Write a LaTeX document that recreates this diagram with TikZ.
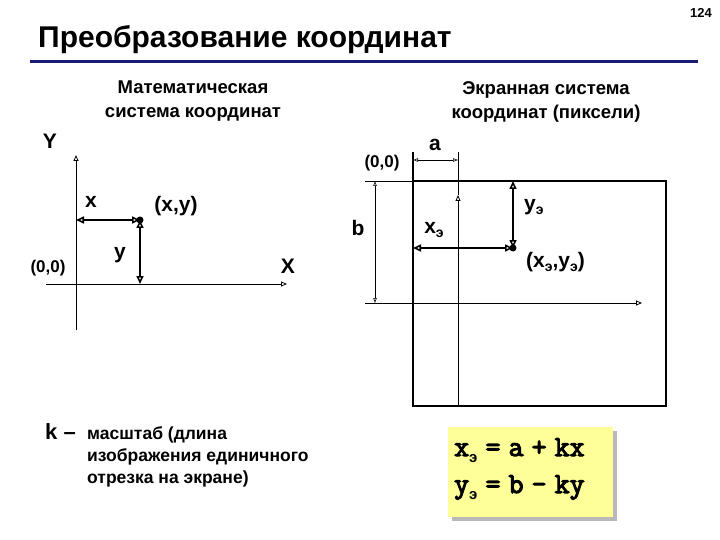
\documentclass[tikz,border=0pt]{standalone}
\usepackage{fontspec}
\setmainfont{Liberation Sans}
\usetikzlibrary{arrows.meta}
\definecolor{navy}{HTML}{1A1A70}
\definecolor{boxyellow}{HTML}{FFFF99}
\tikzset{
  axis/.style={line width=0.8pt, -{Triangle[open,length=6pt,width=5pt]}},
  dimline/.style={line width=0.6pt, {Triangle[open,length=5pt,width=3.5pt]}-{Triangle[open,length=5pt,width=3.5pt]}},
  coordarrow/.style={line width=1.6pt, {Triangle[open,length=8pt,width=7pt]}-{Triangle[open,length=8pt,width=7pt]}},
  lbl/.style={font=\bfseries\fontsize{21}{24}\selectfont, inner sep=0pt},
  hdr/.style={font=\bfseries\fontsize{18.5}{24}\selectfont, inner sep=0pt, anchor=base},
  btxt/.style={font=\bfseries\fontsize{17.5}{22}\selectfont, inner sep=0pt, anchor=base west},
  frm/.style={font=\ttfamily\fontsize{29}{30}\selectfont, inner sep=0pt, anchor=base west},
  thin/.style={line width=0.8pt},
}
\newcommand{\sube}{\raisebox{-0.4ex}{\fontsize{14}{14}\selectfont э}}
\newcommand{\subf}{\raisebox{-0.5ex}{\rmfamily\bfseries\fontsize{15}{15}\selectfont э}}
\newcommand{\fbold}[1]{\special{pdf:literal direct 2 Tr 1.1 w}#1\special{pdf:literal direct 0 Tr}}
\newcommand{\fsp}{\hspace{0.28em}}
\begin{document}
\begin{tikzpicture}[x=1pt,y=-1pt]
\useasboundingbox (0,0) rectangle (720,540);
% title
\node[anchor=base west, inner sep=0pt, font=\bfseries\fontsize{30}{33}\selectfont] (title) at (38,48) {Преобразование координат};
\node[anchor=base east, inner sep=0pt, font=\bfseries\fontsize{13}{14}\selectfont] (pg) at (712,18) {124};
\draw[navy, line width=3pt] (30,62) coordinate (l1) -- (698,62) coordinate (l2);
% headers
\node[hdr] (h1a) at (193,94) {Математическая};
\node[hdr] (h1b) at (193,118) {система координат};
\node[hdr] (h2a) at (546,95) {Экранная система};
\node[hdr] (h2b) at (546,119) {координат (пиксели)};
% left axes
\coordinate (yb) at (76,330);
\coordinate (yt) at (76,155);
\coordinate (xl) at (46,284);
\coordinate (xr) at (287,284);
\draw[axis] (yb) -- (yt);
\draw[axis] (xl) -- (xr);
\coordinate (p) at (140,220);
\coordinate (px) at (76,220);
\coordinate (py) at (140,284);
\draw[coordarrow] (px) -- (p);
\draw[coordarrow] (py) -- (p);
\fill (p) circle (3.5pt);
\node[lbl] (lx) at (91,202) {x};
\node[lbl] (lxy) at (176,206) {(x,y)};
\node[lbl] (ly) at (120,255) {y};
\node[lbl, font=\bfseries\fontsize{17}{18}\selectfont] (l00) at (48,268) {(0,0)};
\node[lbl] (lX) at (288,266) {X};
\node[lbl] (lY) at (50,141) {Y};
% right: screen
\draw[line width=2pt] (413,181) rectangle (666,406);
\draw[line width=1.6pt] (413,152) -- (413,181);
\draw[thin] (365,181) -- (413,181);
\coordinate (ay0) at (458,406);
\coordinate (ay1) at (458,195);
\coordinate (ay2) at (458,152);
\draw[axis] (ay0) -- (ay1);
\draw[thin] (ay1) -- (ay2);
\coordinate (ax0) at (365,303);
\coordinate (ax1) at (642,303);
\draw[axis] (ax0) -- (ax1);
\coordinate (da0) at (413,160);
\coordinate (da1) at (458,160);
\draw[dimline] (da0) -- (da1);
\coordinate (db0) at (375,181);
\coordinate (db1) at (375,303);
\draw[dimline] (db0) -- (db1);
\coordinate (q) at (513,248);
\coordinate (qx) at (413,248);
\coordinate (qy) at (513,181);
\draw[coordarrow] (qx) -- (q);
\draw[coordarrow] (qy) -- (q);
\fill (q) circle (3.5pt);
\node[lbl] (la) at (435,145) {a};
\node[lbl] (lb) at (358,228) {b};
\node[lbl, font=\bfseries\fontsize{17}{18}\selectfont] (r00) at (382,163) {(0,0)};
\node[lbl, anchor=west] (lye) at (524,207) {y\sube};
\node[lbl] (lxe) at (434,230) {x\sube};
\node[lbl, anchor=west] (lxye) at (526,262) {(x\sube,y\sube)};
% bottom text
\node[anchor=base west, inner sep=0pt, font=\bfseries\fontsize{22}{24}\selectfont] (k) at (45,439) {k –};
\node[btxt] (kt1) at (87,439) {масштаб (длина};
\node[btxt] (kt2) at (87,461) {изображения единичного};
\node[btxt] (kt3) at (87,483) {отрезка на экране)};
% formula box
\fill[gray!55] (452,431) rectangle (617,521);
\fill[boxyellow] (448,427) coordinate (fb1) rectangle (613,517) coordinate (fb2);
\node[frm] (f1) at (454,456) {\fbold{x}\subf\fsp\fbold{=}\fsp\fbold{a}\fsp\fbold{+}\fsp\fbold{kx}};
\node[frm] (f2) at (454,493) {\fbold{y}\subf\fsp\fbold{=}\fsp\fbold{b}\fsp\fbold{-}\fsp\fbold{ky}};
\end{tikzpicture}
\end{document}
